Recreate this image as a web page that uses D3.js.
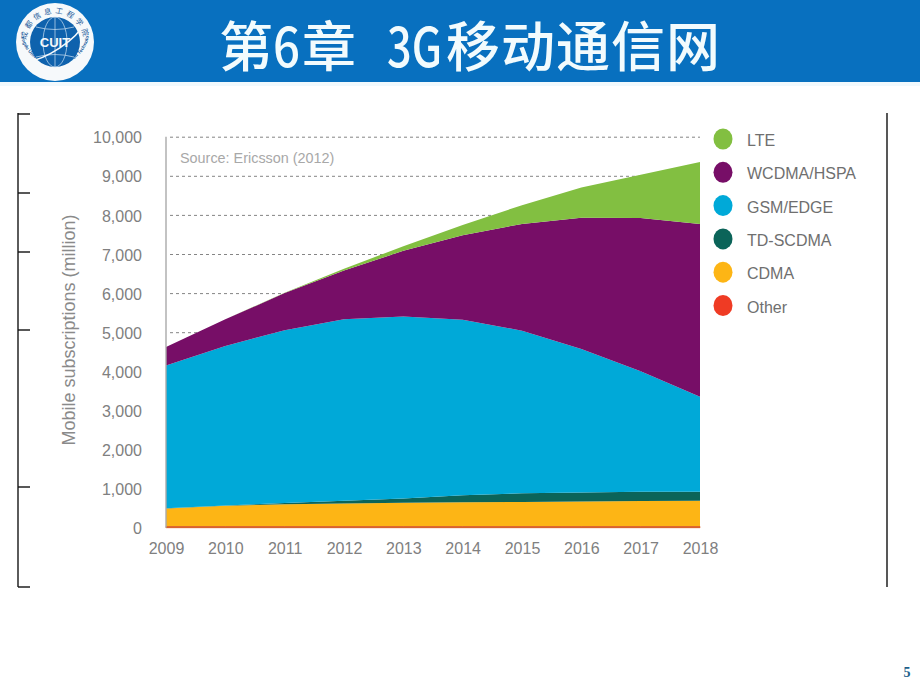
<!DOCTYPE html>
<html lang="zh">
<head>
<meta charset="utf-8">
<style>
html,body{margin:0;padding:0;background:#fff}
svg{display:block}
text{font-family:"Liberation Sans",Arial,sans-serif}
</style>
<script src="https://cdn.jsdelivr.net/npm/d3@7"></script>
</head>
<body>
<svg id="c" width="920" height="690"></svg>
<script>
const years = [2009,2010,2011,2012,2013,2014,2015,2016,2017,2018];
const other = [30,30,30,30,30,30,30,30,30,30];
const cdma  = [460,530,570,590,610,620,630,640,650,660];
const tdscdma = [10,10,30,70,110,180,220,230,240,230];
const gsm   = [3650,4080,4420,4640,4650,4490,4160,3670,3080,2430];
const wcdma = [470,680,950,1250,1680,2160,2730,3360,3920,4420];
const lte   = [0,0,10,40,120,260,480,770,1110,1580];
const yTicks = [0,1000,2000,3000,4000,5000,6000,7000,8000,9000,10000];
const seriesNames = ["Other","CDMA","TD-SCDMA","GSM/EDGE","WCDMA/HSPA","LTE"];
const seriesValues = [other,cdma,tdscdma,gsm,wcdma,lte];
const seriesColors = ["#d9612a","#fdb515","#0b6459","#00a9d8","#770e67","#82bf41"];
const legendColors = ["#82bf41","#770e67","#00a9d8","#0b6459","#fdb515","#ef3b24"];
const legendOrder = ["LTE","WCDMA/HSPA","GSM/EDGE","TD-SCDMA","CDMA","Other"];
const bracketTicks = [114,193,252,330,487,587];
const titleParts = ["第","6","章","3G","移","动","通","信","网"];
const titleStarts = [219,273,302,387,446,501,556,611,666];
const titleWidths = [null,27,null,55,null,null,null,null,null];

const svg = d3.select("#c");

// Slide header
svg.append("rect").attr("width",920).attr("height",82).attr("fill","#0870bf");
svg.append("rect").attr("y",82).attr("width",920).attr("height",4).attr("fill","#f1f9fd");
const title = svg.append("text").attr("y",67)
  .style("font-family",'"Noto Sans CJK SC",sans-serif').style("font-weight",500)
  .attr("font-size",54).attr("fill","#f2fbfd");
titleParts.forEach((t,i)=>{
  const s = title.append("tspan").attr("x",titleStarts[i]).text(t);
  if (titleWidths[i]) s.attr("textLength",titleWidths[i]).attr("lengthAdjust","spacingAndGlyphs");
});

// Logo
const logo = svg.append("g").attr("transform","translate(55,42)");
logo.append("circle").attr("r",39).attr("fill","#f6f9fb");
const defs = svg.append("defs");
defs.append("path").attr("id","arcTop").attr("d","M-27,11 A29,29 0 1 1 27,11");
defs.append("path").attr("id","arcBot").attr("d","M-34,-6 A34.5,34.5 0 0 0 34,-6");
logo.append("text").attr("font-size",7.5).attr("fill","#1a5a9a")
  .style("font-family",'"Noto Sans CJK SC",sans-serif')
  .append("textPath").attr("href","#arcTop").attr("startOffset","50%").attr("text-anchor","middle")
  .attr("letter-spacing",3.2).text("成都信息工程学院");
logo.append("text").attr("font-size",4.8).attr("fill","#1a5a9a").attr("font-weight","bold")
  .append("textPath").attr("href","#arcBot").attr("startOffset","50%").attr("text-anchor","middle")
  .text("Chengdu University of Information Technology");
logo.append("circle").attr("r",25).attr("fill","#0f62ad");
const globe = logo.append("g").attr("fill","none").attr("stroke","#cfe3f3").attr("stroke-width",0.7);
globe.append("ellipse").attr("rx",12).attr("ry",25);
globe.append("line").attr("y1",-25).attr("y2",25);
globe.append("path").attr("d","M-19,-15 Q0,-10 19,-15 M-19,15 Q0,10 19,15");
globe.append("path").attr("d","M-29,20 C-10,18 22,-2 29,-19").attr("stroke","#f6f9fb").attr("stroke-width",1.6);
logo.append("text").attr("text-anchor","middle").attr("y",5).attr("font-size",13).attr("font-weight","bold")
  .attr("fill","#f6f9fb").text("CUIT");

// Brackets left over from the slide template
const frame = svg.append("g").attr("stroke","#333").attr("fill","none");
frame.append("line").attr("x1",18).attr("x2",18).attr("y1",113).attr("y2",587).attr("stroke-width",1.6);
frame.selectAll("line.t").data(bracketTicks).join("line").attr("class","t")
  .attr("x1",18).attr("x2",30).attr("y1",d=>d).attr("y2",d=>d).attr("stroke","#111").attr("stroke-width",1.4);
frame.append("line").attr("x1",887).attr("x2",887).attr("y1",113).attr("y2",587).attr("stroke","#111").attr("stroke-width",1.4);

// Scales
const x = d3.scalePoint().domain(years).range([166,700]);
const y = d3.scaleLinear().domain([0,10000]).range([527.7,136.7]);

// Gridlines
const grid = svg.append("g").attr("transform","translate(166,0)")
  .call(d3.axisRight(y).tickValues(yTicks.filter(d=>d>0)).tickSize(534).tickFormat(""));
grid.select(".domain").remove();
grid.selectAll("line").attr("stroke","#777").attr("stroke-width",0.9).attr("stroke-dasharray","3 3").attr("x1",4);

// Stacked areas
const rows = years.map((yr,i)=>{
  const r = {year:yr};
  seriesNames.forEach((n,k)=>r[n]=seriesValues[k][i]);
  return r;
});
const stacked = d3.stack().keys(seriesNames)(rows);
const area = d3.area().x(d=>x(d.data.year)).y0(d=>y(d[0])).y1(d=>y(d[1]));
svg.append("g").selectAll("path").data(stacked).join("path")
  .attr("d",area).attr("fill",(d,i)=>seriesColors[i]);
// The thinnest band goes on top with an outline of its own, as it is barely a pixel high
svg.append("path").datum(stacked[0]).attr("d",area)
  .attr("fill",seriesColors[0]).attr("stroke",seriesColors[0]).attr("stroke-width",0.8);

// Axis lines and labels
svg.append("line").attr("x1",166).attr("x2",166).attr("y1",y(10000)).attr("y2",y(0))
  .attr("stroke","#aaa").attr("stroke-width",1.4);

const yAxis = svg.append("g").attr("transform","translate(142,1)")
  .call(d3.axisLeft(y).tickValues(yTicks).tickSize(0).tickPadding(0).tickFormat(d3.format(",")));
yAxis.select(".domain").remove();
yAxis.selectAll("text").attr("font-size",16).attr("fill","#808080")
  .style("font-family",'"Liberation Sans",Arial,sans-serif');

const xAxis = svg.append("g").attr("transform","translate(0,554)")
  .call(d3.axisBottom(x).tickSize(0).tickPadding(0).tickFormat(d3.format("d")));
xAxis.select(".domain").remove();
xAxis.selectAll("text").attr("font-size",16).attr("fill","#808080")
  .style("font-family",'"Liberation Sans",Arial,sans-serif').attr("dy",0).attr("y",0);

svg.append("text").attr("transform","translate(75,330) rotate(-90)").attr("text-anchor","middle")
  .attr("font-size",18).attr("fill","#8a8a8a").text("Mobile subscriptions (million)");
svg.append("text").attr("x",180).attr("y",162.5).attr("font-size",14.4).attr("fill","#a8a8a8").text("Source: Ericsson (2012)");

// Legend
const ly = d3.scalePoint().domain(legendOrder).range([139,305.5]);
const legend = svg.append("g").selectAll("g").data(legendOrder).join("g")
  .attr("transform",d=>`translate(0,${ly(d)})`);
legend.append("ellipse").attr("cx",723).attr("rx",9.5).attr("ry",10.5)
  .attr("fill",(d,i)=>legendColors[i]);
legend.append("text").attr("x",747).attr("y",7).attr("font-size",16).attr("fill","#6f6f6f").text(d=>d);

// Page number
svg.append("text").attr("x",907).attr("y",677).attr("text-anchor","middle").attr("font-size",14)
  .attr("font-weight","bold").style("font-family",'"Liberation Serif",serif').attr("fill","#1d5f8a").text("5");
</script>
</body>
</html>
